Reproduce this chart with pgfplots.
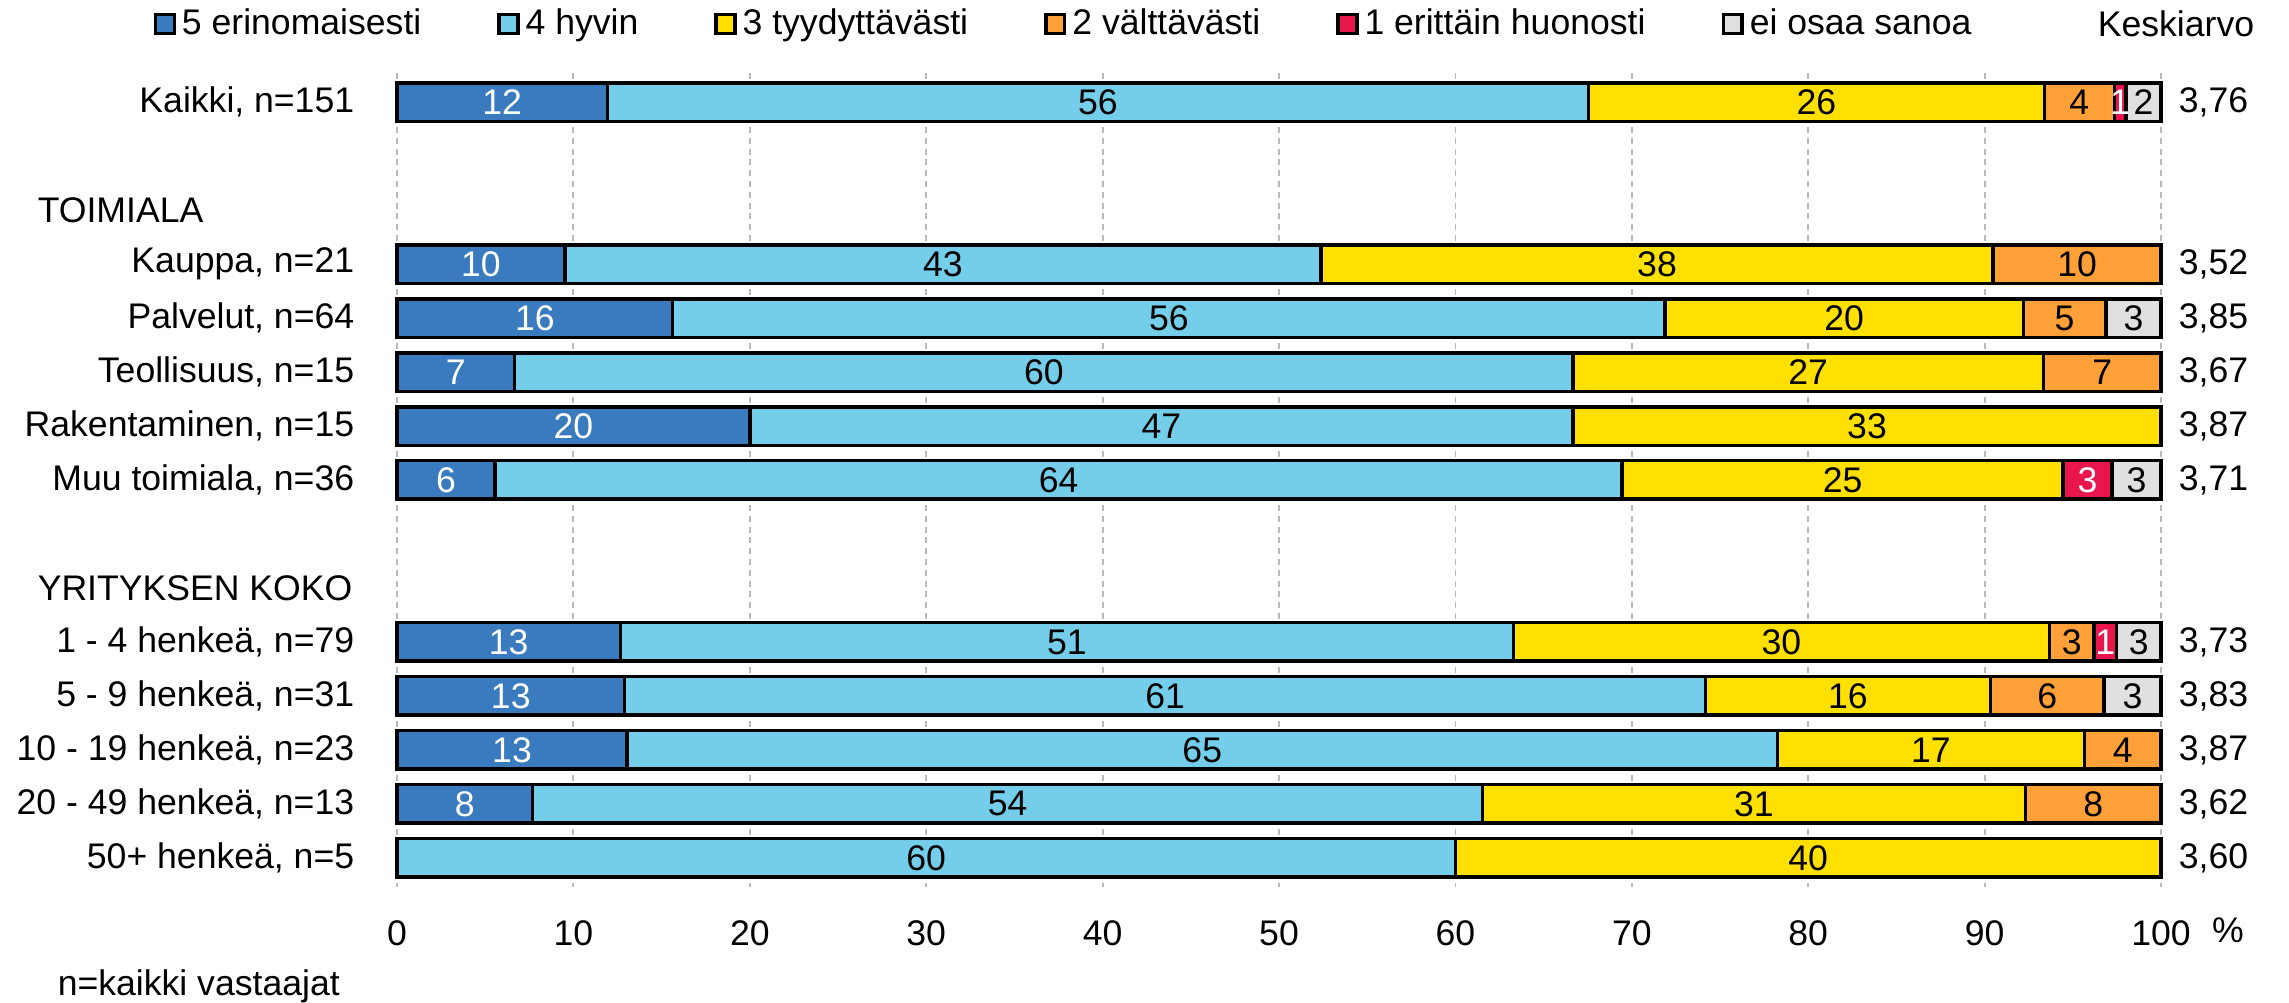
\documentclass[border=0pt]{standalone}
\usepackage{fontspec}
\setmainfont{Liberation Sans}
\usepackage{pgfplots}
\usepackage{pgfplotstable}
\pgfplotsset{compat=1.18}
\definecolor{c5}{HTML}{3A7BBF}
\definecolor{c4}{HTML}{74CEEA}
\definecolor{c3}{HTML}{FFE000}
\definecolor{c2}{HTML}{FFA038}
\definecolor{c1}{HTML}{E9164D}
\definecolor{c0}{HTML}{E0E0E0}
\pgfplotstableread{
row v5 v4 v3 v2 v1 eos
0  11.92 55.63 25.83 3.97 0.66 1.99
3  9.52 42.86 38.10 9.52 0 0
4  15.63 56.25 20.31 4.69 0 3.12
5  6.67 60.00 26.66 6.67 0 0
6  20.00 46.67 33.33 0 0 0
7  5.56 63.89 25.00 0 2.78 2.77
10 12.66 50.63 30.38 2.53 1.27 2.53
11 12.90 61.29 16.13 6.45 0 3.23
12 13.04 65.22 17.39 4.35 0 0
13 7.69 53.85 30.77 7.69 0 0
14 0 60.00 40.00 0 0 0
}\data
\pgfplotstablecreatecol[create col/expr={\thisrow{v5}/2}]{m5}\data
\pgfplotstablecreatecol[create col/expr={\thisrow{v5}+\thisrow{v4}/2}]{m4}\data
\pgfplotstablecreatecol[create col/expr={\thisrow{v5}+\thisrow{v4}+\thisrow{v3}/2}]{m3}\data
\pgfplotstablecreatecol[create col/expr={\thisrow{v5}+\thisrow{v4}+\thisrow{v3}+\thisrow{v2}/2}]{m2}\data
\pgfplotstablecreatecol[create col/expr={\thisrow{v5}+\thisrow{v4}+\thisrow{v3}+\thisrow{v2}+\thisrow{v1}/2}]{m1}\data
\pgfplotstablecreatecol[create col/expr={\thisrow{v5}+\thisrow{v4}+\thisrow{v3}+\thisrow{v2}+\thisrow{v1}+\thisrow{eos}/2}]{m0}\data
\pgfplotsset{
  common/.style={scale only axis, width=441pt, height=203.5pt,
    xmin=0, xmax=100, ymin=-0.54, ymax=14.54, y dir=reverse,
    enlargelimits=false, clip=false,
    /pgf/number format/assume math mode=true},
  seg/.style={draw=black, line width=0.85pt, fill=#1,
    legend image code/.code={\draw[fill=#1, draw=black, line width=0.85pt] (0pt,-2.35pt) rectangle (4.7pt,2.35pt);}},
  lab/.style={draw=none, mark=none, point meta=explicit,
    nodes near coords={\pgfmathfloatifflags{\pgfplotspointmeta}{0}{}{\pgfmathprintnumber[fixed,precision=0,assume math mode=true]{\pgfplotspointmeta}}},
    every node near coord/.append style={anchor=center, inner sep=0pt, text=#1}},
}
\begin{document}
\fontsize{8.9}{10.7}\selectfont
\begin{tikzpicture}
\begin{axis}[
  common,
  xbar stacked,
  bar width=9.6pt,
  axis line style={draw=none},
  major tick length=0pt,
  xtick={0,10,...,100},
  xmajorgrids,
  major grid style={gray!55, dash pattern=on 1.5pt off 1.2pt, line width=0.45pt},
  ytick={0,3,4,5,6,7,10,11,12,13,14},
  yticklabels={{Kaikki, n=151},{Kauppa, n=21},{Palvelut, n=64},{Teollisuus, n=15},{Rakentaminen, n=15},{Muu toimiala, n=36},{1 - 4 henkeä, n=79},{5 - 9 henkeä, n=31},{10 - 19 henkeä, n=23},{20 - 49 henkeä, n=13},{50+ henkeä, n=5}},
  yticklabel style={anchor=east, inner sep=0pt, xshift=-10.5pt},
  xticklabel style={anchor=north, inner sep=0pt, yshift=-8.3pt},
  legend columns=6,
  legend style={draw=none, fill=none, at={(axis description cs:0,1)}, anchor=west, xshift=-61pt, yshift=12.25pt, inner sep=0pt, nodes={inner xsep=1.5pt, inner ysep=0pt}, /tikz/every even column/.append style={column sep=17.5pt}},
]
\addplot[seg=c5] table[x=v5, y=row] {\data};
\addplot[seg=c4] table[x=v4, y=row] {\data};
\addplot[seg=c3] table[x=v3, y=row] {\data};
\addplot[seg=c2] table[x=v2, y=row] {\data};
\addplot[seg=c1] table[x=v1, y=row] {\data};
\addplot[seg=c0] table[x=eos, y=row] {\data};
\legend{5 erinomaisesti, 4 hyvin, 3 tyydyttävästi, 2 välttävästi, 1 erittäin huonosti, ei osaa sanoa}
\node[anchor=west, inner sep=0pt] at ([xshift=-90pt]axis cs:0,2) {TOIMIALA};
\node[anchor=west, inner sep=0pt] at ([xshift=-90pt]axis cs:0,9) {YRITYKSEN KOKO};
\node[anchor=west, inner sep=0pt] at ([xshift=-16pt, yshift=12.25pt]axis description cs:1,1) {Keskiarvo};
\node[anchor=west, inner sep=0pt] at ([xshift=4.25pt]axis cs:100,0) {3,76};
\node[anchor=west, inner sep=0pt] at ([xshift=4.25pt]axis cs:100,3) {3,52};
\node[anchor=west, inner sep=0pt] at ([xshift=4.25pt]axis cs:100,4) {3,85};
\node[anchor=west, inner sep=0pt] at ([xshift=4.25pt]axis cs:100,5) {3,67};
\node[anchor=west, inner sep=0pt] at ([xshift=4.25pt]axis cs:100,6) {3,87};
\node[anchor=west, inner sep=0pt] at ([xshift=4.25pt]axis cs:100,7) {3,71};
\node[anchor=west, inner sep=0pt] at ([xshift=4.25pt]axis cs:100,10) {3,73};
\node[anchor=west, inner sep=0pt] at ([xshift=4.25pt]axis cs:100,11) {3,83};
\node[anchor=west, inner sep=0pt] at ([xshift=4.25pt]axis cs:100,12) {3,87};
\node[anchor=west, inner sep=0pt] at ([xshift=4.25pt]axis cs:100,13) {3,62};
\node[anchor=west, inner sep=0pt] at ([xshift=4.25pt]axis cs:100,14) {3,60};
\node[anchor=north, inner sep=0pt] at ([xshift=16.75pt, yshift=-7.6pt]axis description cs:1,0) {\%};
\node[anchor=west, inner sep=0pt] at ([xshift=-85pt, yshift=-24.75pt]axis description cs:0,0) {n=kaikki vastaajat};
\coordinate (bbsw) at ([xshift=-99.25pt, yshift=-29pt]axis description cs:0,0);
\coordinate (bbne) at ([xshift=32pt, yshift=18.25pt]axis description cs:1,1);
\end{axis}
\begin{axis}[common, hide axis]
\addplot[lab=white] table[x=m5, y=row, meta=v5] {\data};
\addplot[lab=black] table[x=m4, y=row, meta=v4] {\data};
\addplot[lab=black] table[x=m3, y=row, meta=v3] {\data};
\addplot[lab=black] table[x=m2, y=row, meta=v2] {\data};
\addplot[lab=white] table[x=m1, y=row, meta=v1] {\data};
\addplot[lab=black] table[x=m0, y=row, meta=eos] {\data};
\end{axis}
\pgfresetboundingbox
\path[use as bounding box] (bbsw) rectangle (bbne);
\end{tikzpicture}
\end{document}
